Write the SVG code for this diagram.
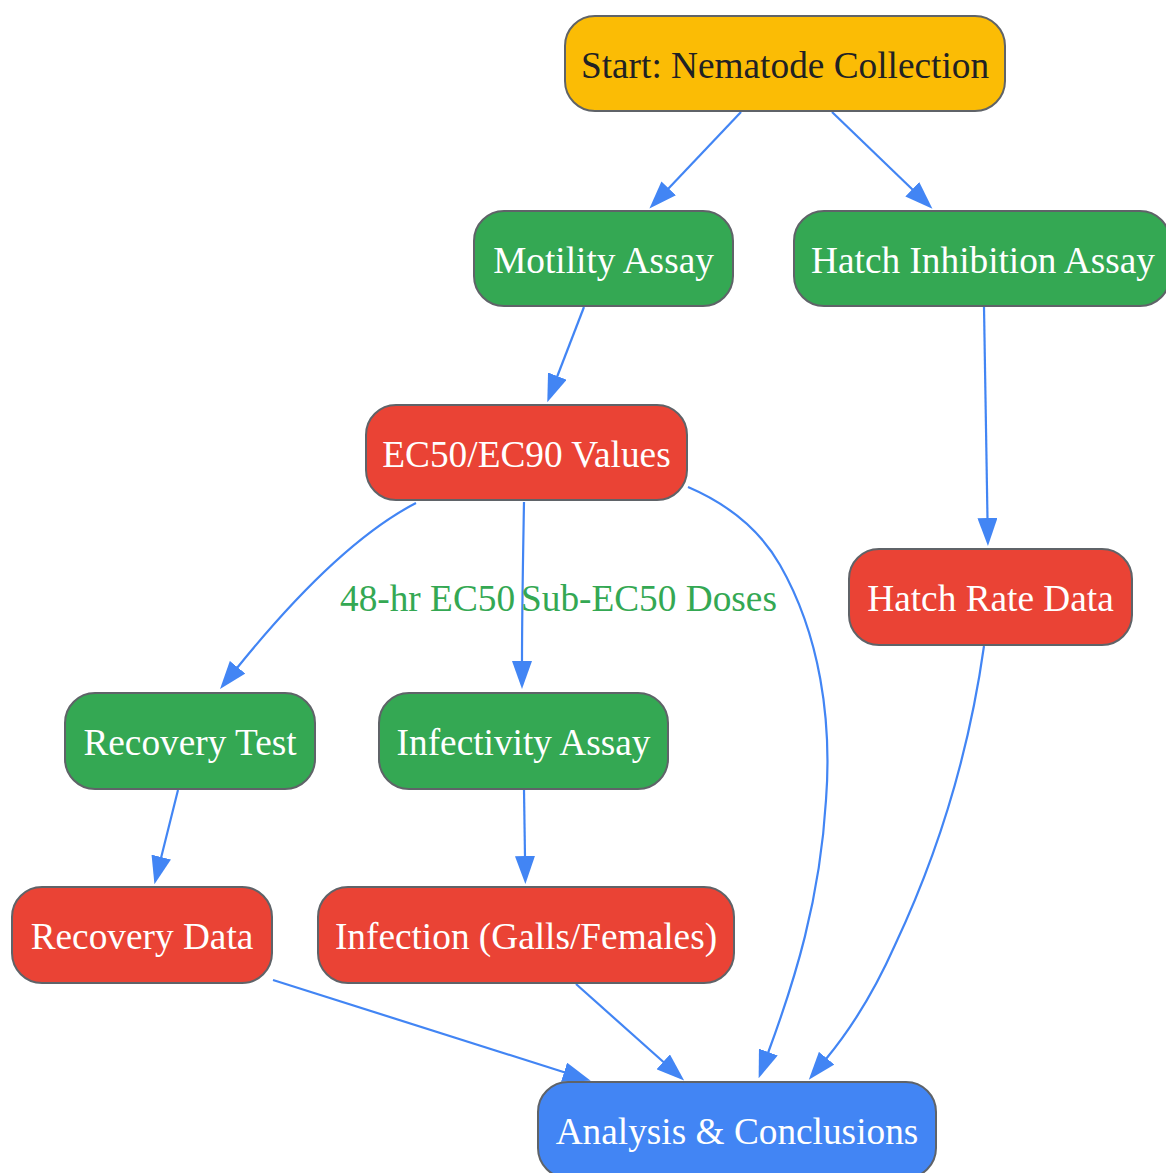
<svg xmlns="http://www.w3.org/2000/svg" width="1166" height="1173" viewBox="0 0 1166 1173">
<style>
.n rect{stroke:#5f6368;stroke-width:2}
.n text{font-family:"Liberation Serif","Times New Roman",serif;font-size:37.3px;text-anchor:middle;fill:#ffffff}
.g rect{fill:#34A853}
.r rect{fill:#EA4335}
.b rect{fill:#4285F4}
.y rect{fill:#FBBC05}
.y text{fill:#202124}
.e path{fill:none;stroke:#4285F4;stroke-width:2.2;marker-end:url(#ah)}
.lbl{font-family:"Liberation Serif","Times New Roman",serif;font-size:37.3px;fill:#34A853}
</style>
<defs>
<marker id="ah" viewBox="0 0 28 20" refX="1" refY="10" markerWidth="28" markerHeight="20" markerUnits="userSpaceOnUse" orient="auto">
<path d="M0,0 L28,10 L0,20 Z" fill="#4285F4"/>
</marker>
</defs>
<rect width="1166" height="1173" fill="#ffffff"/>
<g id="edges" class="e">
<path d="M741,112 L668,189"/>
<path d="M832,112 L913,190"/>
<path d="M584,307 L557,377"/>
<path d="M984,307 L987.5,519"/>
<path d="M416,503 C360,532 300,590 237,668"/>
<path d="M524,502 C523,560 522,610 522,662"/>
<path d="M688,487 C730,505 760,530 780,565 C820,635 832,720 826,800 C820,900 795,980 768,1053"/>
<path d="M984,646 C968,760 935,860 895,945 C875,990 850,1030 826,1059"/>
<path d="M178,790 L161,858"/>
<path d="M524,790 L525,857"/>
<path d="M273,980 L565,1072.5"/>
<path d="M576,984 L664,1062.5"/>
<text class="lbl" x="340" y="611">48-hr EC50</text>
<text class="lbl" x="521" y="611">Sub-EC50 Doses</text>
</g>
<g id="start" class="n y"><rect x="565" y="16" width="440" height="95" rx="30"/><text x="785" y="78">Start: Nematode Collection</text></g>
<g id="motility" class="n g"><rect x="474" y="211" width="259" height="95" rx="30"/><text x="603.5" y="273">Motility Assay</text></g>
<g id="hatchInhibition" class="n g"><rect x="794" y="211" width="376" height="95" rx="30"/><text x="983" y="273">Hatch Inhibition Assay</text></g>
<g id="ec50" class="n r"><rect x="366" y="405" width="321" height="95" rx="30"/><text x="526.5" y="467">EC50/EC90 Values</text></g>
<g id="hatchRate" class="n r"><rect x="849" y="549" width="283" height="96" rx="30"/><text x="990.5" y="611">Hatch Rate Data</text></g>
<g id="recoveryTest" class="n g"><rect x="65" y="693" width="250" height="96" rx="30"/><text x="190" y="755">Recovery Test</text></g>
<g id="infectivity" class="n g"><rect x="379" y="693" width="289" height="96" rx="30"/><text x="523.5" y="755">Infectivity Assay</text></g>
<g id="recoveryData" class="n r"><rect x="12" y="887" width="260" height="96" rx="30"/><text x="142" y="949">Recovery Data</text></g>
<g id="infection" class="n r"><rect x="318" y="887" width="416" height="96" rx="30"/><text x="526" y="949">Infection (Galls/Females)</text></g>
<g id="analysis" class="n b"><rect x="538" y="1082" width="398" height="96" rx="30"/><text x="737" y="1144">Analysis &amp; Conclusions</text></g>
</svg>
